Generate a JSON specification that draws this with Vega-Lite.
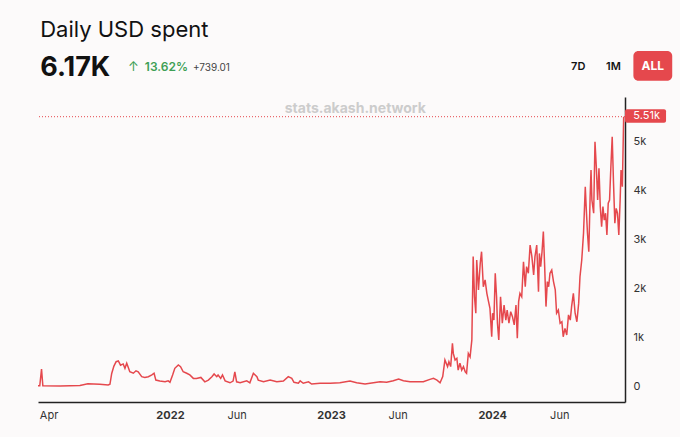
{
  "$schema": "https://vega.github.io/schema/vega-lite/v6.json",
  "width": 587,
  "height": 305,
  "autosize": "none",
  "padding": {"left": 38, "top": 97, "right": 55, "bottom": 35},
  "background": "#fcfafa",
  "config": {
    "font": "Inter",
    "view": {"stroke": null}
  },
  "datasets": {
    "one": [{}],
    "spend": [
      {"date": "2021-03-08", "usd": 20},
      {"date": "2021-03-12", "usd": 20},
      {"date": "2021-03-16", "usd": 360},
      {"date": "2021-03-19", "usd": 20},
      {"date": "2021-04-27", "usd": 15},
      {"date": "2021-06-11", "usd": 25},
      {"date": "2021-06-29", "usd": 60},
      {"date": "2021-07-26", "usd": 50},
      {"date": "2021-08-14", "usd": 35},
      {"date": "2021-08-18", "usd": 50},
      {"date": "2021-08-22", "usd": 270},
      {"date": "2021-08-27", "usd": 420},
      {"date": "2021-09-01", "usd": 510},
      {"date": "2021-09-06", "usd": 525},
      {"date": "2021-09-11", "usd": 440},
      {"date": "2021-09-17", "usd": 465},
      {"date": "2021-09-21", "usd": 375},
      {"date": "2021-09-25", "usd": 480},
      {"date": "2021-09-29", "usd": 380},
      {"date": "2021-10-02", "usd": 305},
      {"date": "2021-10-10", "usd": 275},
      {"date": "2021-10-16", "usd": 325},
      {"date": "2021-10-21", "usd": 305},
      {"date": "2021-10-29", "usd": 205},
      {"date": "2021-11-05", "usd": 190},
      {"date": "2021-11-13", "usd": 205},
      {"date": "2021-11-21", "usd": 240},
      {"date": "2021-11-26", "usd": 275},
      {"date": "2021-11-30", "usd": 135},
      {"date": "2021-12-09", "usd": 115},
      {"date": "2021-12-21", "usd": 100},
      {"date": "2021-12-28", "usd": 120},
      {"date": "2022-01-01", "usd": 90},
      {"date": "2022-01-07", "usd": 240},
      {"date": "2022-01-12", "usd": 375},
      {"date": "2022-01-20", "usd": 445},
      {"date": "2022-01-25", "usd": 410},
      {"date": "2022-01-31", "usd": 305},
      {"date": "2022-02-08", "usd": 275},
      {"date": "2022-02-15", "usd": 240},
      {"date": "2022-02-23", "usd": 170},
      {"date": "2022-03-02", "usd": 170},
      {"date": "2022-03-12", "usd": 190},
      {"date": "2022-03-21", "usd": 100},
      {"date": "2022-03-29", "usd": 135},
      {"date": "2022-04-06", "usd": 205},
      {"date": "2022-04-11", "usd": 260},
      {"date": "2022-04-17", "usd": 205},
      {"date": "2022-04-20", "usd": 240},
      {"date": "2022-04-26", "usd": 170},
      {"date": "2022-04-30", "usd": 240},
      {"date": "2022-05-06", "usd": 120},
      {"date": "2022-05-17", "usd": 80},
      {"date": "2022-05-24", "usd": 115},
      {"date": "2022-05-28", "usd": 305},
      {"date": "2022-06-01", "usd": 100},
      {"date": "2022-06-09", "usd": 80},
      {"date": "2022-06-24", "usd": 120},
      {"date": "2022-07-01", "usd": 80},
      {"date": "2022-07-09", "usd": 275},
      {"date": "2022-07-13", "usd": 240},
      {"date": "2022-07-17", "usd": 205},
      {"date": "2022-07-20", "usd": 135},
      {"date": "2022-08-01", "usd": 100},
      {"date": "2022-08-16", "usd": 135},
      {"date": "2022-08-31", "usd": 100},
      {"date": "2022-09-15", "usd": 115},
      {"date": "2022-09-26", "usd": 205},
      {"date": "2022-10-04", "usd": 170},
      {"date": "2022-10-09", "usd": 90},
      {"date": "2022-10-19", "usd": 70},
      {"date": "2022-10-23", "usd": 120},
      {"date": "2022-10-30", "usd": 70},
      {"date": "2022-11-11", "usd": 100},
      {"date": "2022-11-18", "usd": 55},
      {"date": "2022-12-07", "usd": 70},
      {"date": "2022-12-30", "usd": 70},
      {"date": "2023-01-21", "usd": 80},
      {"date": "2023-02-13", "usd": 115},
      {"date": "2023-02-28", "usd": 80},
      {"date": "2023-03-19", "usd": 55},
      {"date": "2023-04-07", "usd": 80},
      {"date": "2023-04-22", "usd": 100},
      {"date": "2023-05-07", "usd": 90},
      {"date": "2023-05-22", "usd": 120},
      {"date": "2023-06-03", "usd": 155},
      {"date": "2023-06-14", "usd": 120},
      {"date": "2023-06-29", "usd": 100},
      {"date": "2023-07-14", "usd": 100},
      {"date": "2023-07-29", "usd": 100},
      {"date": "2023-08-13", "usd": 150},
      {"date": "2023-08-21", "usd": 170},
      {"date": "2023-08-29", "usd": 135},
      {"date": "2023-09-05", "usd": 80},
      {"date": "2023-09-11", "usd": 205},
      {"date": "2023-09-16", "usd": 545},
      {"date": "2023-09-22", "usd": 410},
      {"date": "2023-09-25", "usd": 510},
      {"date": "2023-09-29", "usd": 410},
      {"date": "2023-10-03", "usd": 885},
      {"date": "2023-10-05", "usd": 680},
      {"date": "2023-10-09", "usd": 545},
      {"date": "2023-10-13", "usd": 580},
      {"date": "2023-10-16", "usd": 340},
      {"date": "2023-10-20", "usd": 480},
      {"date": "2023-10-24", "usd": 340},
      {"date": "2023-10-28", "usd": 410},
      {"date": "2023-11-01", "usd": 305},
      {"date": "2023-11-04", "usd": 275},
      {"date": "2023-11-08", "usd": 680},
      {"date": "2023-11-12", "usd": 610},
      {"date": "2023-11-16", "usd": 955},
      {"date": "2023-11-19", "usd": 2655},
      {"date": "2023-11-22", "usd": 1835},
      {"date": "2023-11-25", "usd": 1500},
      {"date": "2023-11-27", "usd": 2585},
      {"date": "2023-12-01", "usd": 1975},
      {"date": "2023-12-05", "usd": 2520},
      {"date": "2023-12-08", "usd": 2755},
      {"date": "2023-12-12", "usd": 2040},
      {"date": "2023-12-16", "usd": 2180},
      {"date": "2023-12-20", "usd": 1905},
      {"date": "2023-12-23", "usd": 1770},
      {"date": "2023-12-27", "usd": 1600},
      {"date": "2023-12-31", "usd": 1020},
      {"date": "2024-01-02", "usd": 1500},
      {"date": "2024-01-05", "usd": 1360},
      {"date": "2024-01-08", "usd": 2315},
      {"date": "2024-01-11", "usd": 1835},
      {"date": "2024-01-13", "usd": 1295},
      {"date": "2024-01-16", "usd": 955},
      {"date": "2024-01-20", "usd": 1835},
      {"date": "2024-01-24", "usd": 1295},
      {"date": "2024-01-28", "usd": 1665},
      {"date": "2024-02-01", "usd": 1360},
      {"date": "2024-02-04", "usd": 1565},
      {"date": "2024-02-08", "usd": 1295},
      {"date": "2024-02-12", "usd": 1530},
      {"date": "2024-02-16", "usd": 1430},
      {"date": "2024-02-20", "usd": 1260},
      {"date": "2024-02-24", "usd": 1665},
      {"date": "2024-02-27", "usd": 990},
      {"date": "2024-03-01", "usd": 1735},
      {"date": "2024-03-04", "usd": 1905},
      {"date": "2024-03-08", "usd": 1835},
      {"date": "2024-03-12", "usd": 2550},
      {"date": "2024-03-16", "usd": 2040},
      {"date": "2024-03-19", "usd": 2450},
      {"date": "2024-03-23", "usd": 2315},
      {"date": "2024-03-27", "usd": 2890},
      {"date": "2024-03-31", "usd": 2655},
      {"date": "2024-04-04", "usd": 2280},
      {"date": "2024-04-07", "usd": 2655},
      {"date": "2024-04-11", "usd": 2890},
      {"date": "2024-04-15", "usd": 1940},
      {"date": "2024-04-17", "usd": 2720},
      {"date": "2024-04-20", "usd": 2450},
      {"date": "2024-04-23", "usd": 2755},
      {"date": "2024-04-26", "usd": 3165},
      {"date": "2024-04-29", "usd": 2450},
      {"date": "2024-05-02", "usd": 1635},
      {"date": "2024-05-05", "usd": 2145},
      {"date": "2024-05-08", "usd": 2040},
      {"date": "2024-05-11", "usd": 2315},
      {"date": "2024-05-15", "usd": 2380},
      {"date": "2024-05-19", "usd": 2145},
      {"date": "2024-05-23", "usd": 1975},
      {"date": "2024-05-26", "usd": 1500},
      {"date": "2024-05-30", "usd": 1565},
      {"date": "2024-06-03", "usd": 1295},
      {"date": "2024-06-07", "usd": 1325},
      {"date": "2024-06-10", "usd": 1020},
      {"date": "2024-06-14", "usd": 1190},
      {"date": "2024-06-18", "usd": 1055},
      {"date": "2024-06-22", "usd": 1465},
      {"date": "2024-06-26", "usd": 1360},
      {"date": "2024-06-29", "usd": 1635},
      {"date": "2024-07-03", "usd": 1905},
      {"date": "2024-07-07", "usd": 1500},
      {"date": "2024-07-11", "usd": 1325},
      {"date": "2024-07-15", "usd": 1700},
      {"date": "2024-07-18", "usd": 2245},
      {"date": "2024-07-22", "usd": 2585},
      {"date": "2024-07-26", "usd": 3130},
      {"date": "2024-07-30", "usd": 4080},
      {"date": "2024-08-01", "usd": 3675},
      {"date": "2024-08-04", "usd": 3130},
      {"date": "2024-08-07", "usd": 2755},
      {"date": "2024-08-10", "usd": 3880},
      {"date": "2024-08-12", "usd": 4420},
      {"date": "2024-08-14", "usd": 3810},
      {"date": "2024-08-18", "usd": 3540},
      {"date": "2024-08-21", "usd": 5000},
      {"date": "2024-08-24", "usd": 4490},
      {"date": "2024-08-27", "usd": 3810},
      {"date": "2024-08-30", "usd": 4455},
      {"date": "2024-09-02", "usd": 3675},
      {"date": "2024-09-05", "usd": 3265},
      {"date": "2024-09-08", "usd": 3675},
      {"date": "2024-09-11", "usd": 3400},
      {"date": "2024-09-14", "usd": 3540},
      {"date": "2024-09-17", "usd": 3095},
      {"date": "2024-09-20", "usd": 3745},
      {"date": "2024-09-23", "usd": 3810},
      {"date": "2024-09-26", "usd": 4490},
      {"date": "2024-09-29", "usd": 5100},
      {"date": "2024-10-02", "usd": 4150},
      {"date": "2024-10-05", "usd": 3335},
      {"date": "2024-10-08", "usd": 3640},
      {"date": "2024-10-11", "usd": 3540},
      {"date": "2024-10-14", "usd": 3095},
      {"date": "2024-10-17", "usd": 3810},
      {"date": "2024-10-19", "usd": 4420},
      {"date": "2024-10-22", "usd": 4080},
      {"date": "2024-10-25", "usd": 5510}
    ]
  },
  "data": {"name": "one"},
  "encoding": {
    "x": {
      "type": "temporal",
      "scale": {"domain": [{"year": 2021, "month": 3, "date": 8}, {"year": 2024, "month": 10, "date": 28}]},
      "axis": {
        "orient": "bottom",
        "title": null,
        "grid": false,
        "ticks": false,
        "domainColor": "#222222",
        "domainWidth": 1.5,
        "labelFontSize": 11,
        "labelColor": "#333333",
        "labelPadding": 7,
        "labelFlush": false,
        "labelOverlap": false,
        "values": [
          {"year": 2021, "month": 4, "date": 1},
          {"year": 2022, "month": 1, "date": 1},
          {"year": 2022, "month": 6, "date": 1},
          {"year": 2023, "month": 1, "date": 1},
          {"year": 2023, "month": 6, "date": 1},
          {"year": 2024, "month": 1, "date": 1},
          {"year": 2024, "month": 6, "date": 1}
        ],
        "labelExpr": "month(datum.value) == 0 ? timeFormat(datum.value, '%Y') : timeFormat(datum.value, '%b')",
        "labelFontWeight": {"condition": {"test": "month(datum.value) == 0", "value": "bold"}, "value": "normal"}
      }
    },
    "y": {
      "type": "quantitative",
      "scale": {"domain": [-312, 5912], "nice": false, "zero": false},
      "axis": {
        "orient": "right",
        "title": null,
        "grid": false,
        "ticks": false,
        "domainColor": "#222222",
        "domainWidth": 1.5,
        "labelFontSize": 11,
        "labelColor": "#333333",
        "labelPadding": 8,
        "values": [0, 1000, 2000, 3000, 4000, 5000],
        "labelExpr": "datum.value == 0 ? '0' : (datum.value / 1000) + 'k'"
      }
    }
  },
  "layer": [
    {
      "mark": {"type": "rule", "color": "#e5484d", "strokeWidth": 1, "strokeDash": [1, 2]},
      "encoding": {"y": {"datum": 5510}}
    },
    {
      "mark": {"type": "text", "align": "center", "baseline": "alphabetic", "fontSize": 14, "fontWeight": "bold", "color": "#cccccc"},
      "encoding": {
        "x": {"datum": {"year": 2023, "month": 2, "date": 25}},
        "y": {"datum": 5592},
        "text": {"value": "stats.akash.network"}
      }
    },
    {
      "data": {"name": "spend"},
      "mark": {"type": "line", "color": "#e5484d", "strokeWidth": 1.5},
      "encoding": {
        "x": {"field": "date", "type": "temporal"},
        "y": {"field": "usd", "type": "quantitative"}
      }
    },
    {
      "mark": {"type": "rect", "color": "#e5484d", "cornerRadius": 2},
      "encoding": {
        "x": {"datum": {"year": 2024, "month": 10, "date": 28}},
        "x2": {"datum": {"year": 2025, "month": 1, "date": 29}},
        "y": {"datum": 5660},
        "y2": {"datum": 5385}
      }
    },
    {
      "mark": {"type": "text", "align": "center", "baseline": "middle", "fontSize": 11, "color": "#ffffff"},
      "encoding": {
        "x": {"datum": {"year": 2024, "month": 12, "date": 16}},
        "y": {"datum": 5520},
        "text": {"value": "5.51k"}
      }
    },
    {
      "mark": {"type": "text", "align": "left", "baseline": "alphabetic", "fontSize": 22, "color": "#111111"},
      "encoding": {
        "x": {"datum": {"year": 2021, "month": 3, "date": 13}},
        "y": {"datum": 7143},
        "text": {"value": "Daily USD spent"}
      }
    },
    {
      "mark": {"type": "text", "align": "left", "baseline": "alphabetic", "fontSize": 27, "fontWeight": "bold", "color": "#111111"},
      "encoding": {
        "x": {"datum": {"year": 2021, "month": 3, "date": 13}},
        "y": {"datum": 6341},
        "text": {"value": "6.17K"}
      }
    },
    {
      "mark": {"type": "text", "align": "left", "baseline": "alphabetic", "fontSize": 13, "color": "#3e9f55"},
      "encoding": {
        "x": {"datum": {"year": 2021, "month": 9, "date": 28}},
        "y": {"datum": 6449},
        "text": {"value": "↑"}
      }
    },
    {
      "mark": {"type": "text", "align": "left", "baseline": "alphabetic", "fontSize": 12, "fontWeight": 600, "color": "#3e9f55"},
      "encoding": {
        "x": {"datum": {"year": 2021, "month": 11, "date": 5}},
        "y": {"datum": 6449},
        "text": {"value": "13.62%"}
      }
    },
    {
      "mark": {"type": "text", "align": "left", "baseline": "alphabetic", "fontSize": 10, "color": "#444444"},
      "encoding": {
        "x": {"datum": {"year": 2022, "month": 2, "date": 22}},
        "y": {"datum": 6449},
        "text": {"value": "+739.01"}
      }
    },
    {
      "mark": {"type": "text", "align": "center", "baseline": "alphabetic", "fontSize": 11, "fontWeight": 600, "color": "#111111"},
      "encoding": {
        "x": {"datum": {"year": 2024, "month": 7, "date": 14}},
        "y": {"datum": 6463},
        "text": {"value": "7D"}
      }
    },
    {
      "mark": {"type": "text", "align": "center", "baseline": "alphabetic", "fontSize": 11, "fontWeight": 600, "color": "#111111"},
      "encoding": {
        "x": {"datum": {"year": 2024, "month": 10, "date": 2}},
        "y": {"datum": 6463},
        "text": {"value": "1M"}
      }
    },
    {
      "mark": {"type": "rect", "color": "#e5484d", "cornerRadius": 5},
      "encoding": {
        "x": {"datum": {"year": 2024, "month": 11, "date": 16}},
        "x2": {"datum": {"year": 2025, "month": 2, "date": 12}},
        "y": {"datum": 6851},
        "y2": {"datum": 6245}
      }
    },
    {
      "mark": {"type": "text", "align": "center", "baseline": "alphabetic", "fontSize": 12, "fontWeight": "bold", "color": "#ffffff"},
      "encoding": {
        "x": {"datum": {"year": 2024, "month": 12, "date": 30}},
        "y": {"datum": 6463},
        "text": {"value": "ALL"}
      }
    }
  ]
}
